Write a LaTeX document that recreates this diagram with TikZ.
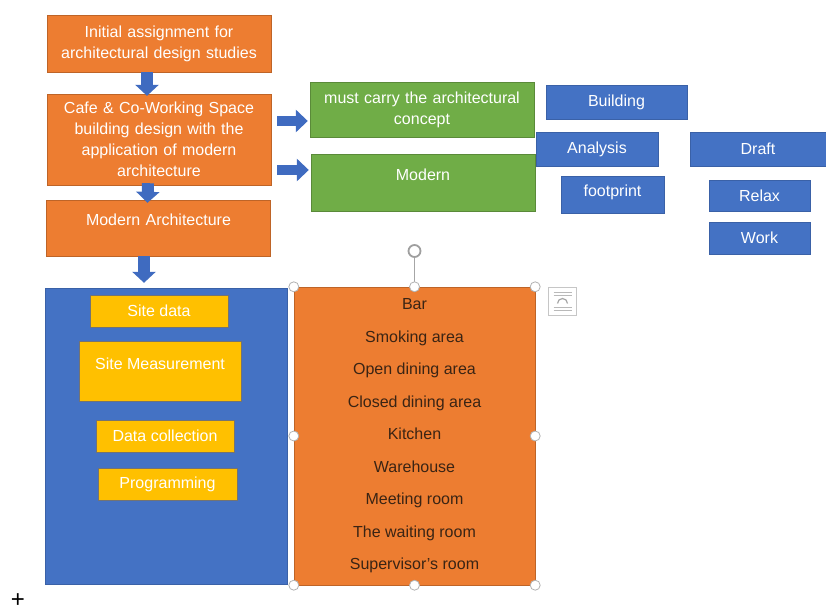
\documentclass[tikz,border=0pt]{standalone}
\usepackage{fontspec}
\setmainfont{Liberation Sans}
\usetikzlibrary{arrows.meta, positioning}

\definecolor{stageorange}{HTML}{ED7D31}
\definecolor{conceptgreen}{HTML}{70AD47}
\definecolor{tagblue}{HTML}{4472C4}
\definecolor{taskyellow}{HTML}{FFC000}
\definecolor{arrowblue}{HTML}{3F6BC0}
\definecolor{listtext}{HTML}{3A2414}

\tikzstyle{stage} = [rectangle, fill=stageorange, draw=stageorange!80!black, text=white, align=center, inner sep=0pt, minimum width=224pt, text width=215pt, font=\fontsize{16}{21}\selectfont]
\tikzstyle{concept} = [rectangle, fill=conceptgreen, draw=conceptgreen!80!black, text=white, align=center, inner sep=0pt, minimum width=224pt, text width=215pt, font=\fontsize{16}{21}\selectfont]
\tikzstyle{tag} = [rectangle, fill=tagblue, draw=tagblue!85!black, text=white, inner sep=0pt, minimum height=34pt, font=\fontsize{16}{21}\selectfont]
\tikzstyle{task} = [rectangle, fill=taskyellow, draw=black!55, text=white, inner sep=0pt, minimum height=32pt, font=\fontsize{16}{21}\selectfont]
\tikzstyle{arrow} = [draw=arrowblue, line width=12pt, -{Triangle[length=11pt, width=23pt]}]
\tikzstyle{sidearrow} = [draw=arrowblue, line width=10pt, -{Triangle[length=12pt, width=22pt]}]
\tikzstyle{handle} = [circle, draw=gray!60, fill=white, inner sep=0pt, minimum size=10pt, line width=0.8pt]

\begin{document}
\begin{tikzpicture}[x=1pt, y=-1pt]

    \useasboundingbox (0,0) rectangle (826,612);

    % Main column
    \node (init) [stage, minimum height=57pt] at (159,43.5) {Initial assignment for\\architectural design studies};
    \node (cafe) [stage, minimum height=91pt] at (159,139.5) {Cafe \& Co-Working Space\\building design with the\\application of modern\\architecture};
    \node (modarch) [stage, minimum height=56pt, text depth=17pt] at (158.5,228) {Modern Architecture};

    % Site panel
    \node (panel) [rectangle, fill=tagblue, draw=tagblue!85!black, minimum width=242pt, minimum height=296pt] at (166,436) {};
    \node (sitedata) [task, minimum width=138pt] at (159,311) {Site data};
    \node (sitemeas) [task, minimum width=162pt, minimum height=60pt, text depth=14pt] at (160,371) {Site Measurement};
    \node (datacol) [task, minimum width=138pt] at (165,436) {Data collection};
    \node (prog) [task, minimum width=139pt] at (167.5,484) {Programming};

    % Room list
    \node (rooms) [rectangle, fill=stageorange, draw=stageorange!80!black, minimum width=241pt, minimum height=298pt, align=center, text=listtext, font=\fontsize{16}{32.5}\selectfont] at (414.5,436)
        {Bar\\Smoking area\\Open dining area\\Closed dining area\\Kitchen\\Warehouse\\Meeting room\\The waiting room\\Supervisor's room};

    % Concepts
    \node (carry) [concept, minimum height=55pt] at (422,109.5) {must carry the architectural\\concept};
    \node (modern) [concept, minimum height=57pt, text depth=15pt] at (423,182.5) {Modern};

    % Tags
    \node (building) [tag, minimum width=141pt] at (616.5,102) {Building};
    \node (analysis) [tag, minimum width=122pt] at (597,149) {Analysis};
    \node (draft) [tag, minimum width=136pt] at (758,149) {Draft};
    \node (footprint) [tag, minimum width=103pt, minimum height=37pt, text depth=8pt] at (612.5,194.5) {footprint};
    \node (relax) [tag, minimum width=101pt, minimum height=31pt] at (759.5,195.5) {Relax};
    \node (work) [tag, minimum width=101pt, minimum height=32pt] at (759.5,238) {Work};

    % ==== Arrows
    \draw [arrow] ([xshift=-12pt]init.south) -- ([xshift=-12pt, yshift=-2pt]cafe.north);
    \draw [arrow] ([xshift=-11pt, yshift=2pt]cafe.south) -- ([xshift=-11pt, yshift=-3pt]modarch.north);
    \draw [arrow, shorten >=5pt] ([xshift=-14.5pt]modarch.south) -- ([xshift=-14.5pt]modarch.south |- panel.north);

    \draw [sidearrow, shorten <=6pt, shorten >=2pt] ([yshift=18.5pt]cafe.east) -- ([yshift=18.5pt]cafe.east -| carry.west);
    \draw [sidearrow, shorten <=6pt, shorten >=2pt] ([yshift=-30.5pt]cafe.east) -- ([yshift=-30.5pt]cafe.east -| modern.west);

    % ==== Selection handles
    \node (rotate) [circle, draw=gray!75, line width=1.8pt, minimum size=12pt, inner sep=0pt] at (414.5,251) {};
    \draw [gray!70, line width=0.8pt] (rooms.north) -- (rotate.south);
    \foreach \a in {north west, north, north east, west, east, south west, south, south east}
        \node (h-\a) [handle] at (rooms.\a) {};

    \node (layout) [rectangle, draw=gray!45, fill=white, minimum size=28pt, inner sep=0pt] at (562.5,301.5) {};
    \foreach \dy in {-9,-6,6,9}
        \draw [gray!55, line width=0.6pt] ([xshift=-9pt, yshift=\dy pt]layout.center) -- ([xshift=9pt, yshift=\dy pt]layout.center);
    \draw [gray!70, line width=1.2pt] ([xshift=-5pt, yshift=-2pt]layout.center) arc (180:0:5pt);

    \node (cursor) at (18,601) {\fontsize{24}{24}\selectfont +};

\end{tikzpicture}
\end{document}
